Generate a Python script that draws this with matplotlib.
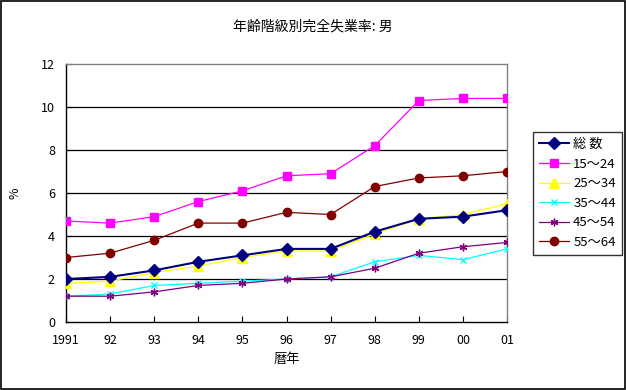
import matplotlib
matplotlib.use("Agg")
import matplotlib.pyplot as plt
from matplotlib.patches import Rectangle

plt.rcParams['font.family'] = ['Noto Sans CJK JP', 'DejaVu Sans']

# データ
years = [1991, 1992, 1993, 1994, 1995, 1996, 1997, 1998, 1999, 2000, 2001]
year_labels = ['1991', '92', '93', '94', '95', '96', '97', '98', '99', '00', '01']
total = [2.0, 2.1, 2.4, 2.8, 3.1, 3.4, 3.4, 4.2, 4.8, 4.9, 5.2]
age15_24 = [4.7, 4.6, 4.9, 5.6, 6.1, 6.8, 6.9, 8.2, 10.3, 10.4, 10.4]
age25_34 = [1.8, 1.9, 2.3, 2.6, 3.0, 3.3, 3.3, 4.1, 4.8, 5.0, 5.5]
age35_44 = [1.2, 1.3, 1.7, 1.8, 1.9, 2.0, 2.1, 2.8, 3.1, 2.9, 3.4]
age45_54 = [1.2, 1.2, 1.4, 1.7, 1.8, 2.0, 2.1, 2.5, 3.2, 3.5, 3.7]
age55_64 = [3.0, 3.2, 3.8, 4.6, 4.6, 5.1, 5.0, 6.3, 6.7, 6.8, 7.0]

fig = plt.figure(figsize=(6.26, 3.90), dpi=100)
# 外枠
fig.patches.append(Rectangle((0.001, 0.002), 0.997, 0.995, transform=fig.transFigure,
                             fill=False, edgecolor='black', linewidth=1.2))

ax = fig.add_axes([66 / 626, 1 - 322 / 390, (507 - 66) / 626, (322 - 64) / 390])

lw = 0.9
ax.plot(years, total, color='#000080', marker='D', markersize=6, linewidth=1.5, label='総 数', zorder=5)
ax.plot(years, age15_24, color='#FF00FF', marker='s', markersize=5.5, linewidth=lw, label='15～24', zorder=4)
ax.plot(years, age25_34, color='#FFFF00', marker='^', markersize=6.5, linewidth=lw, label='25～34', zorder=4)
ax.plot(years, age35_44, color='#00FFFF', marker='x', markersize=5, markeredgewidth=1, linewidth=lw, label='35～44', zorder=4)
ax.plot(years, age45_54, color='#800080', marker=(6, 2, 0), markersize=5.5, markeredgewidth=1, linewidth=lw, label='45～54', zorder=4)
ax.plot(years, age55_64, color='#800000', marker='o', markersize=6, linewidth=lw, label='55～64', zorder=4)

ax.set_xlim(1991, 2001)
ax.set_ylim(0, 12)
ax.set_yticks(range(0, 13, 2))
ax.set_xticks(years)
ax.set_xticklabels(year_labels)
ax.tick_params(axis='both', direction='in', length=4, width=0.8, labelsize=9, color='black')
ax.tick_params(axis='x', pad=9)
ax.tick_params(axis='y', pad=8)

for y in range(2, 12, 2):
    ax.axhline(y, color='black', linewidth=0.9, zorder=1)

ax.spines['left'].set_color('black')
ax.spines['bottom'].set_color('black')
ax.spines['top'].set_color('#808080')
ax.spines['right'].set_color('#808080')
for s in ax.spines.values():
    s.set_linewidth(1.0)

ax.set_xlabel('暦年', fontsize=9.5, labelpad=4)
ax.set_ylabel('%', fontsize=9, labelpad=14)
fig.text(0.5, 1 - 27 / 390, '年齢階級別完全失業率: 男', ha='center', va='center', fontsize=10)

leg = ax.legend(loc='upper left', bbox_to_anchor=(533 / 626, 1 - 132 / 390),
                bbox_transform=fig.transFigure, fontsize=9.5, frameon=True,
                fancybox=False, edgecolor='black', borderpad=0.45, labelspacing=0.5,
                handlelength=2.3, handletextpad=0.3, borderaxespad=0)
leg.get_frame().set_linewidth(1.0)

fig.savefig('out.png', dpi=100)
